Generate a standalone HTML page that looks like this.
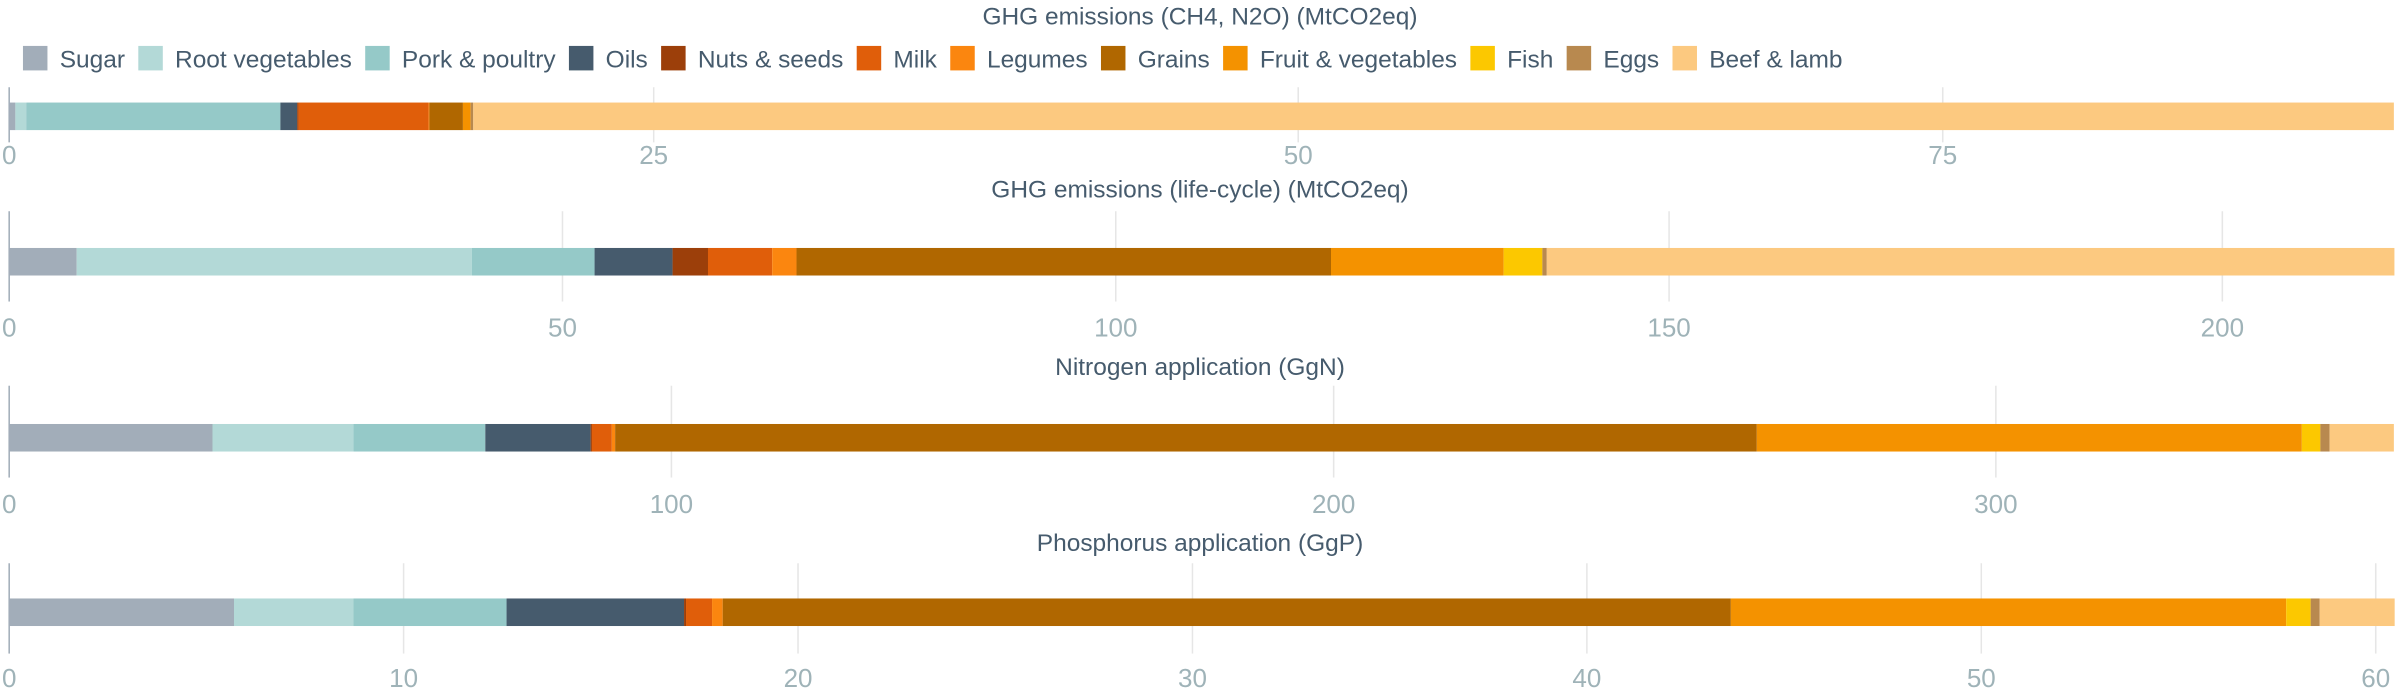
<!DOCTYPE html>
<html><head><meta charset="utf-8">
<style>
html,body{margin:0;padding:0;background:#fff;}
svg{display:block;font-family:"Liberation Sans",sans-serif;}
</style></head>
<body>
<svg id="chart" width="2400" height="700" viewBox="0 0 1568 457.33" xmlns="http://www.w3.org/2000/svg"></svg>
<script>
const categories = ["Sugar","Root vegetables","Pork & poultry","Oils","Nuts & seeds","Milk","Legumes","Grains","Fruit & vegetables","Fish","Eggs","Beef & lamb"];
const colors = ["#a2adb9","#b3d9d7","#95c9c8","#465b6d","#9c3f0a","#e05e0a","#fb860f","#b06700","#f49200","#fcc800","#b8894f","#fcc980"];
const titles = ["GHG emissions (CH4, N2O) (MtCO2eq)","GHG emissions (life-cycle) (MtCO2eq)","Nitrogen application (GgN)","Phosphorus application (GgP)"];
const valuesGhgDirect = [0.24,0.42,9.86,0.65,0.05,5.05,0.03,1.3,0.3,0.0,0.1,74.5];
const valuesGhgLife = [6.1,35.7,11.1,7.05,3.2,5.8,2.2,48.3,15.6,3.5,0.4,76.6];
const valuesNitrogen = [30.7,21.3,19.9,15.9,0.2,3.0,0.5,172.4,82.3,2.8,1.4,9.7];
const valuesPhosphorus = [5.7,3.03,3.88,4.5,0.05,0.66,0.27,25.56,14.08,0.62,0.23,1.9];
const ticks1 = [0,25,50,75];
const ticks2 = [0,50,100,150,200];
const ticks3 = [0,100,200,300];
const ticks4 = [0,10,20,30,40,50,60];

const NS="http://www.w3.org/2000/svg";
const svg=document.getElementById('chart');
function mk(tag,attrs,parent){const e=document.createElementNS(NS,tag);for(const k in attrs)e.setAttribute(k,attrs[k]);(parent||svg).appendChild(e);return e;}

const legend=mk('g',{});


let lx=15;
categories.forEach((c,i)=>{
  const g=mk('g',{},legend);
  
  
  mk('rect',{x:lx,y:30,width:16,height:16,fill:colors[i]},g);
  const t=mk('text',{x:lx+24,y:44,'font-size':16,fill:'#465b6d'},g);
  t.textContent=c;
  lx+=24+t.getComputedTextLength()+8.7;
});

const panels=[
  {vals:valuesGhgDirect,ticks:ticks1,max:92.5,titleY:16,top:57,barY:67,bot:93,tickY:107},
  {vals:valuesGhgLife,ticks:ticks2,max:215.5,titleY:129,top:138,barY:162,bot:197,tickY:220},
  {vals:valuesNitrogen,ticks:ticks3,max:360.1,titleY:245,top:252,barY:277,bot:312,tickY:335},
  {vals:valuesPhosphorus,ticks:ticks4,max:60.46,titleY:360,top:368,barY:391,bot:427,tickY:449}
];
const X0=6,X1=1564;
panels.forEach((p,pi)=>{
  const g=mk('g',{});
  
  
  const xs=v=>X0+v/p.max*(X1-X0);
  const tt=mk('text',{x:784,y:p.titleY,'text-anchor':'middle','font-size':16,fill:'#465b6d'},g);
  
  
  tt.textContent=titles[pi];
  p.ticks.forEach(t=>{
    if(t>0){
      const gl=mk('line',{x1:xs(t),x2:xs(t),y1:p.top,y2:p.bot,stroke:'#e6e6e6','stroke-width':1},g);
      
      
    }
    const lb=mk('text',{x:xs(t),y:p.tickY,'text-anchor':'middle','font-size':17,fill:'#9fb3b8'},g);
    
    
    lb.textContent=t;
  });
  let acc=0;
  p.vals.forEach((v,i)=>{
    const r=mk('rect',{x:xs(acc),y:p.barY,width:Math.max(0,xs(acc+v)-xs(acc)),height:18,fill:colors[i]},g);
    
    
    acc+=v;
  });
  const ax=mk('line',{x1:X0,x2:X0,y1:p.top,y2:p.bot,stroke:'#a2adb9','stroke-width':1},g);
  
  
});
</script>
</body></html>
